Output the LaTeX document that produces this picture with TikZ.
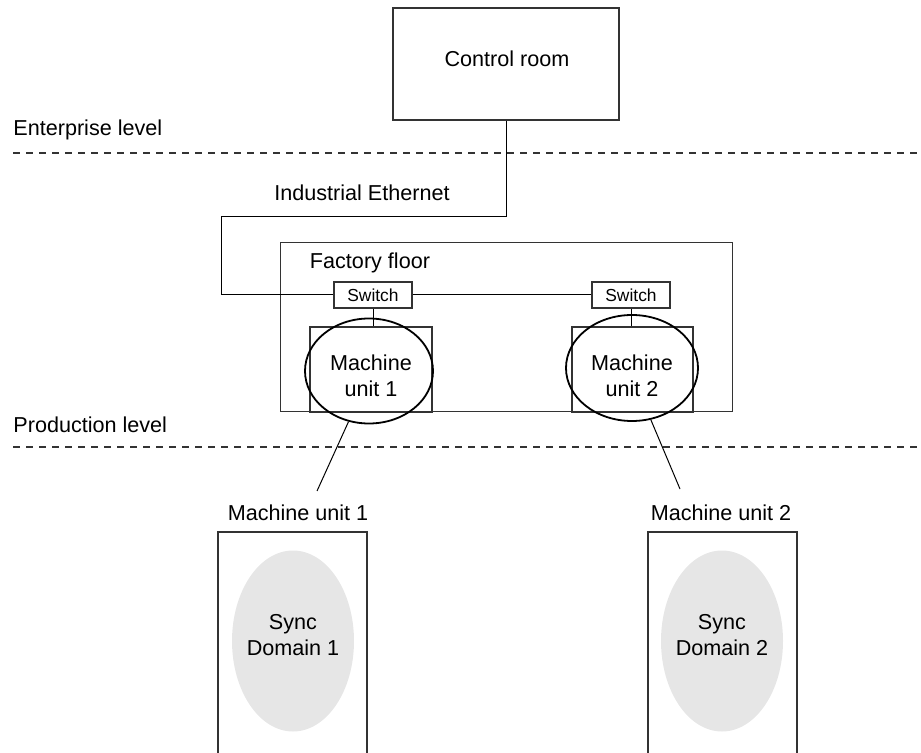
\documentclass[tikz,border=0pt]{standalone}
\usepackage{fontspec}
\setmainfont{Liberation Sans}
\usetikzlibrary{calc,shapes.geometric}
\definecolor{boxgray}{HTML}{333333}
\definecolor{domainfill}{HTML}{E6E6E6}

\begin{document}
\begin{tikzpicture}[x=0.5pt, y=-0.5pt,
    font=\fontsize{10.8}{13}\selectfont,
    every node/.style={inner sep=0pt},
    heavybox/.style={draw=boxgray, line width=1pt},
    lightbox/.style={draw=boxgray, line width=0.5pt},
    switchbox/.style={draw=boxgray, line width=0.8pt, minimum width=39pt, minimum height=13pt, font=\fontsize{8.7}{10}\selectfont},
    unitring/.style={draw=black, line width=0.9pt, ellipse},
    syncdomain/.style={fill=domainfill, ellipse, minimum width=61pt, minimum height=90.5pt},
    link/.style={draw=black, line width=0.5pt},
    levelline/.style={draw=boxgray, line width=0.6pt, dash pattern=on 3.5pt off 3pt}]
  \useasboundingbox (0,0) rectangle (921,753);

  % ---------- enterprise level ----------
  \node[heavybox, minimum width=113pt, minimum height=56pt] (ctrl) at (506,64) {};
  \node (ctrltext) at (507,59) {Control room};
  \node[anchor=west] (entlabel) at (13,130) {Enterprise level};
  \draw[levelline] (13,153) -- (921,153);
  \node (ethlabel) at (362,193) {Industrial Ethernet};

  % ---------- factory floor ----------
  \node[lightbox, minimum width=226pt, minimum height=84.5pt] (floor) at (506,327.5) {};
  \node (floorlabel) at (370,263) {Factory floor};
  \node[switchbox] (sw1) at (373,295) {Switch};
  \node[switchbox] (sw2) at (631,295) {Switch};
  \node[heavybox, minimum width=61pt, minimum height=42.5pt] (mu1) at (371,369.5) {};
  \node[heavybox, minimum width=60.5pt, minimum height=42.5pt] (mu2) at (632.5,369.5) {};
  \node[align=center] (mu1text) at (371,376) {Machine\\unit 1};
  \node[align=center] (mu2text) at (632,376) {Machine\\unit 2};
  \node[unitring, minimum width=64pt, minimum height=52.5pt] (ring1) at (369,371) {};
  \node[unitring, minimum width=66pt, minimum height=53pt] (ring2) at (632,368) {};

  % ---------- network links ----------
  \coordinate (bend) at (221,217);
  \draw[link] (ctrl.south) -- (ctrl.south |- bend) -- (bend) |- (sw1.west);
  \draw[link] (sw1.east) -- (sw2.west);
  \draw[link] (sw1.south) -- (sw1.south |- mu1.north);
  \draw[link] (sw2.south) -- (sw2.south |- mu2.north);

  % ---------- production level ----------
  \node[anchor=west] (prodlabel) at (13,425) {Production level};
  \draw[levelline] (13,447) -- (921,447);

  % ---------- zoomed machine units ----------
  \node (unit1) at (298,513) {Machine unit 1};
  \node (unit2) at (721,513) {Machine unit 2};
  \coordinate (tip1) at (317,491);
  \coordinate (tip2) at (680,489);
  \draw[link] (ring1.-112) -- (tip1);
  \draw[link] (ring2.-70) -- (tip2);

  \draw[heavybox] (218,753) -- (218,532) -- (367,532) -- (367,753);
  \draw[heavybox] (648,753) -- (648,532) -- (797,532) -- (797,753);
  \node[syncdomain] (sync1) at (293,641) {};
  \node[syncdomain] (sync2) at (722,641) {};
  \node[align=center] (sync1text) at (293,635) {Sync\\Domain 1};
  \node[align=center] (sync2text) at (722,635) {Sync\\Domain 2};
\end{tikzpicture}
\end{document}
